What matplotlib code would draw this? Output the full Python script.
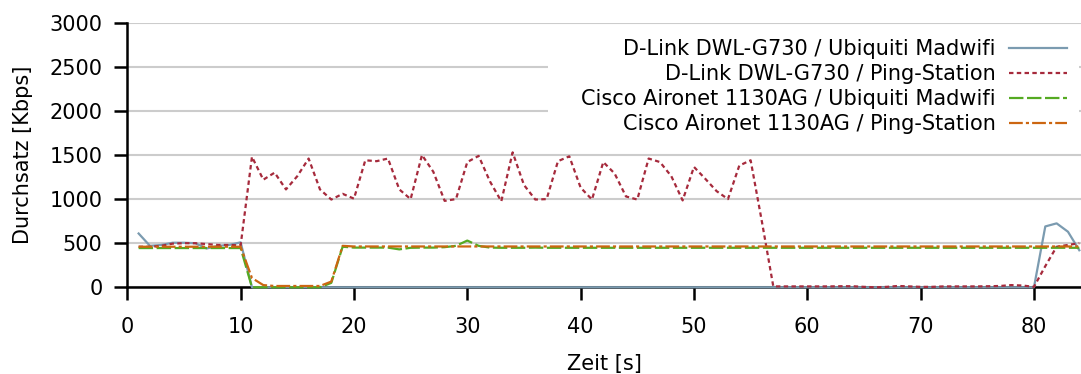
import numpy as np
import matplotlib
matplotlib.use("Agg")
import matplotlib.pyplot as plt
from matplotlib.patches import Rectangle

# Zeit [s]
t = list(range(1, 85))

# D-Link DWL-G730 / Ubiquiti Madwifi
dl_ubnt = [610, 470, 480, 505, 505, 500, 440, 470, 480, 510] + [0] * 70 + [690, 725, 630, 420]

# D-Link DWL-G730 / Ping-Station
dl_ping = [460, 460, 470, 495, 500, 500, 490, 480, 480, 475,
           1480, 1220, 1300, 1110, 1260, 1460, 1110, 995, 1060, 1005,
           1440, 1430, 1460, 1110, 1000, 1500, 1310, 980, 1000, 1420,
           1490, 1200, 975, 1530, 1160, 995, 1000, 1430, 1485, 1130,
           995, 1420, 1290, 1030, 995, 1460, 1420, 1260, 985, 1365,
           1230, 1090, 1000, 1380, 1440, 740, 10, 10, 10, 10,
           10, 10, 12, 12, 5, 0, 5, 15, 10, 5,
           5, 10, 10, 10, 10, 12, 15, 25, 20, 5,
           240, 460, 480, 500]

# Cisco Aironet 1130AG / Ubiquiti Madwifi
cisco_ubnt = [445] * 10 + [0] * 7 + [50, 460,
              450, 450, 450, 450, 430, 448, 450, 450, 455, 470,
              530, 470, 450, 448, 448, 448, 450, 448, 448, 448] + [448] * 54
cisco_ubnt = cisco_ubnt[:84]

# Cisco Aironet 1130AG / Ping-Station
cisco_ping = [460] * 10 + [105, 25, 15, 15, 15, 15, 15, 65, 470] + [463] * 65

labels = ['D-Link DWL-G730 / Ubiquiti Madwifi',
          'D-Link DWL-G730 / Ping-Station',
          'Cisco Aironet 1130AG / Ubiquiti Madwifi',
          'Cisco Aironet 1130AG / Ping-Station']
colors = ['#7b9bb0', '#a62a3c', '#55aa22', '#cc6611']
dashes = [None, (2.0, 1.5), (6.5, 1.6), (6.2, 1.4, 1.4, 1.4)]

plt.rcParams['font.family'] = 'DejaVu Sans'
plt.rcParams['font.size'] = 15

W, H = 1081, 374
fig = plt.figure(figsize=(W / 100, H / 100), dpi=100)
ax = fig.add_axes([127.3 / W, (H - 287.3) / H, (W - 127.3) / W, (287.3 - 22.7) / H])

handles = []
for y, c, d, lab in zip([dl_ubnt, dl_ping, cisco_ubnt, cisco_ping], colors, dashes, labels):
    ln, = ax.plot(t, y, color=c, lw=1.6, label=lab, zorder=3, clip_on=False)
    if d is not None:
        ln.set_dashes(d)
    handles.append(ln)

ax.set_xlim(0, 84.15)
ax.set_ylim(0, 3000)
ax.set_xticks(range(0, 81, 10))
ax.set_yticks(range(0, 3001, 500))

ax.set_axisbelow(True)
ax.yaxis.grid(True, color='#cccccc', lw=1.5)
for s in ['top', 'right']:
    ax.spines[s].set_visible(False)
for s in ['left', 'bottom']:
    ax.spines[s].set_linewidth(1.8)
ax.tick_params(axis='both', direction='out', length=9.4, width=1.8)
ax.tick_params(axis='x', pad=12)
ax.tick_params(axis='y', pad=8.5)

ax.set_xlabel('Zeit [s]', labelpad=12)
ax.set_ylabel('Durchsatz [Kbps]', labelpad=12)

# white background behind the key
x0 = (548 - 127.3) / 953.7
y0 = 1 - (150 - 22.7) / 264.6
y1 = 1 - (27 - 22.7) / 264.6
ax.add_patch(Rectangle((x0, y0), (1079 - 548) / 953.7, y1 - y0, transform=ax.transAxes,
                       facecolor='white', edgecolor='none', zorder=1))

ax.legend(handles=handles, loc='upper right', bbox_to_anchor=(0.9853, 0.937),
          frameon=False, markerfirst=False, borderpad=0, borderaxespad=0,
          handlelength=2.8, handletextpad=0.63, labelspacing=0.24, fontsize=15)

fig.savefig('out.png', dpi=100, facecolor='white')
